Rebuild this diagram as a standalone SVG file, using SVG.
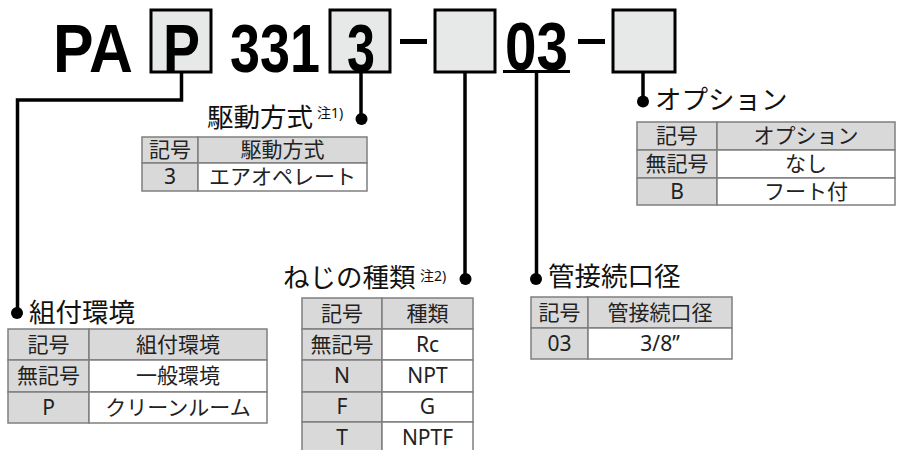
<svg xmlns="http://www.w3.org/2000/svg" width="897" height="450" viewBox="0 0 897 450">
<style>
.big{font-family:"Liberation Sans",Arial,sans-serif;font-weight:bold;font-size:68px;fill:#000}
.box{fill:#e7e8e8;stroke:#000;stroke-width:3}
.ln{fill:none;stroke:#000;stroke-width:3.5}
.dot{fill:#000}
.ttl{font-family:"Noto Sans CJK JP","Noto Sans",sans-serif;font-size:26.5px;fill:#111}
.sup{font-family:"Noto Sans","Noto Sans CJK JP",sans-serif;font-size:14px;fill:#111}
.hd{fill:#d9d9d9;stroke:#7f7f7f;stroke-width:1.5}
.cv{fill:#fff;stroke:#7f7f7f;stroke-width:1.5}
.tx{font-family:"Noto Sans","Noto Sans CJK JP",sans-serif;font-size:21px;fill:#222;text-anchor:middle}
</style>
<rect width="897" height="450" fill="#fff"/>
<g id="code">
<text class="big" x="53" y="72" textLength="80" lengthAdjust="spacingAndGlyphs">PA</text>
<rect class="box" x="151" y="10" width="60" height="62"/>
<text class="big" x="163" y="72" textLength="37" lengthAdjust="spacingAndGlyphs">P</text>
<text class="big" x="230" y="72" textLength="90" lengthAdjust="spacingAndGlyphs">331</text>
<rect class="box" x="330" y="10" width="60" height="62"/>
<text class="big" x="347" y="72" textLength="28" lengthAdjust="spacingAndGlyphs">3</text>
<rect x="400" y="39" width="27" height="5" fill="#000"/>
<rect class="box" x="435" y="10" width="60" height="62"/>
<text class="big" x="505" y="70" textLength="63" lengthAdjust="spacingAndGlyphs">03</text>
<rect x="503" y="70" width="67" height="3" fill="#000"/>
<rect x="578" y="39" width="27" height="5" fill="#000"/>
<rect class="box" x="613" y="10" width="62" height="62"/>
</g>
<g id="connectors">
<path class="ln" d="M181.5 72 V100 H17.5 V313"/>
<circle class="dot" cx="17" cy="313" r="6"/>
<path class="ln" d="M361 72 V119"/>
<circle class="dot" cx="361.5" cy="119" r="6"/>
<path class="ln" d="M465 72 V279"/>
<circle class="dot" cx="465.5" cy="279" r="6"/>
<path class="ln" d="M536.5 72 V279"/>
<circle class="dot" cx="536" cy="279" r="6"/>
<path class="ln" d="M643 72 V101"/>
<circle class="dot" cx="643" cy="101.5" r="6"/>
</g>
<g id="drive">
<text class="ttl" x="207" y="127">駆動方式</text>
<text class="sup" x="317" y="118">注1)</text>
<rect class="hd" x="142" y="137" width="56" height="26"/>
<rect class="hd" x="198" y="137" width="169" height="26"/>
<rect class="hd" x="142" y="163" width="56" height="28"/>
<rect class="cv" x="198" y="163" width="169" height="28"/>
<text class="tx" x="170" y="157">記号</text>
<text class="tx" x="282.5" y="157">駆動方式</text>
<text class="tx" x="170" y="184">3</text>
<text class="tx" x="282.5" y="184">エアオペレート</text>
</g>
<g id="option">
<text class="ttl" x="655" y="109">オプション</text>
<rect class="hd" x="637" y="122" width="80" height="28"/>
<rect class="hd" x="717" y="122" width="178" height="28"/>
<rect class="hd" x="637" y="150" width="80" height="28"/>
<rect class="cv" x="717" y="150" width="178" height="28"/>
<rect class="hd" x="637" y="178" width="80" height="27"/>
<rect class="cv" x="717" y="178" width="178" height="27"/>
<text class="tx" x="677" y="143">記号</text>
<text class="tx" x="806" y="143">オプション</text>
<text class="tx" x="677" y="171">無記号</text>
<text class="tx" x="806" y="171">なし</text>
<text class="tx" x="677" y="198.5">B</text>
<text class="tx" x="806" y="198.5">フート付</text>
</g>
<g id="mount">
<text class="ttl" x="29" y="322">組付環境</text>
<rect class="hd" x="8" y="329" width="81" height="31"/>
<rect class="hd" x="89" y="329" width="178" height="31"/>
<rect class="hd" x="8" y="360" width="81" height="32"/>
<rect class="cv" x="89" y="360" width="178" height="32"/>
<rect class="hd" x="8" y="392" width="81" height="31"/>
<rect class="cv" x="89" y="392" width="178" height="31"/>
<text class="tx" x="48.5" y="352">記号</text>
<text class="tx" x="178" y="352">組付環境</text>
<text class="tx" x="48.5" y="383">無記号</text>
<text class="tx" x="178" y="383">一般環境</text>
<text class="tx" x="48.5" y="414.5">P</text>
<text class="tx" x="178" y="414.5">クリーンルーム</text>
</g>
<g id="thread">
<text class="ttl" x="283" y="287">ねじの種類</text>
<text class="sup" x="420" y="281">注2)</text>
<rect class="hd" x="302" y="298" width="80" height="31"/>
<rect class="hd" x="382" y="298" width="91" height="31"/>
<rect class="hd" x="302" y="329" width="80" height="31"/>
<rect class="cv" x="382" y="329" width="91" height="31"/>
<rect class="hd" x="302" y="360" width="80" height="32"/>
<rect class="cv" x="382" y="360" width="91" height="32"/>
<rect class="hd" x="302" y="392" width="80" height="30"/>
<rect class="cv" x="382" y="392" width="91" height="30"/>
<rect class="hd" x="302" y="422" width="80" height="32"/>
<rect class="cv" x="382" y="422" width="91" height="32"/>
<text class="tx" x="342" y="321">記号</text>
<text class="tx" x="427.5" y="321">種類</text>
<text class="tx" x="342" y="352">無記号</text>
<text class="tx" x="427.5" y="352">Rc</text>
<text class="tx" x="342" y="383">N</text>
<text class="tx" x="427.5" y="383">NPT</text>
<text class="tx" x="342" y="414">F</text>
<text class="tx" x="427.5" y="414">G</text>
<text class="tx" x="342" y="445">T</text>
<text class="tx" x="427.5" y="445">NPTF</text>
</g>
<g id="port">
<text class="ttl" x="548" y="286">管接続口径</text>
<rect class="hd" x="531" y="297" width="57" height="31"/>
<rect class="hd" x="588" y="297" width="144" height="31"/>
<rect class="hd" x="531" y="328" width="57" height="31"/>
<rect class="cv" x="588" y="328" width="144" height="31"/>
<text class="tx" x="559.5" y="320">記号</text>
<text class="tx" x="660" y="320">管接続口径</text>
<text class="tx" x="559.5" y="351">03</text>
<text class="tx" x="660" y="351">3/8”</text>
</g>
</svg>
